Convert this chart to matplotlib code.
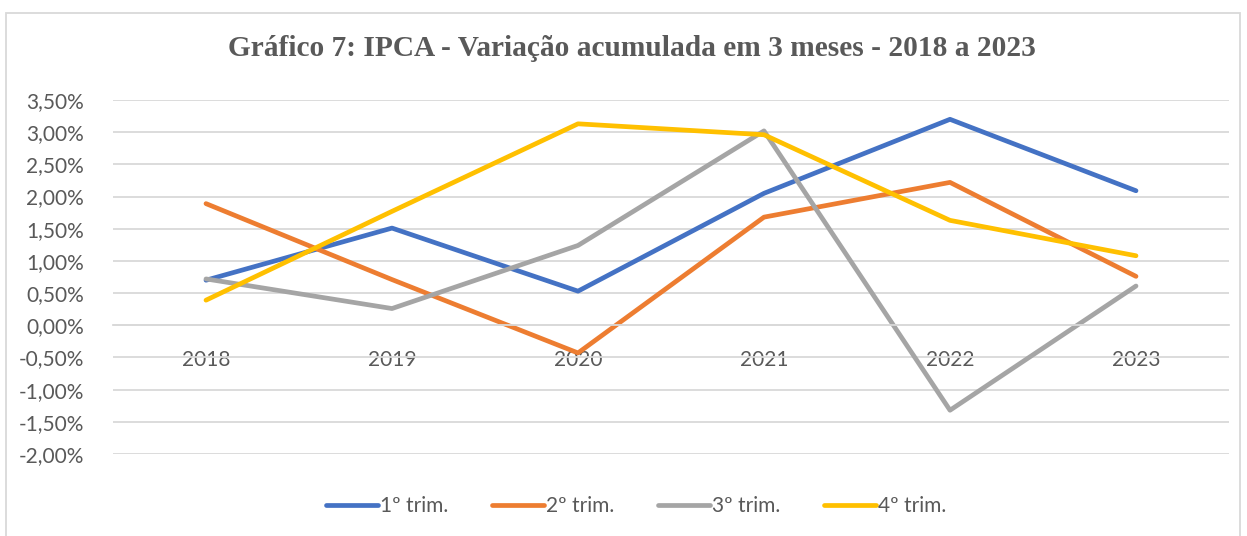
import matplotlib.pyplot as plt
from matplotlib.patches import Rectangle
from matplotlib.ticker import FuncFormatter

anos = ['2018', '2019', '2020', '2021', '2022', '2023']
trim1 = [0.70, 1.51, 0.53, 2.05, 3.20, 2.09]
trim2 = [1.89, 0.71, -0.43, 1.68, 2.22, 0.76]
trim3 = [0.72, 0.26, 1.24, 3.02, -1.32, 0.61]
trim4 = [0.39, 1.77, 3.13, 2.96, 1.63, 1.08]
series = ['1º trim.', '2º trim.', '3º trim.', '4º trim.']
cores = ['#4472C4', '#ED7D31', '#A5A5A5', '#FFC000']

plt.rcParams['font.family'] = ['Lato', 'DejaVu Sans']
W, H = 1247, 536
fig = plt.figure(figsize=(W / 100, H / 100), dpi=100)
ax = fig.add_axes([113 / W, 1 - 454 / H, (1229 - 113) / W, (454 - 100) / H])

x = list(range(len(anos)))
for vals, nome, cor in zip([trim1, trim2, trim3, trim4], series, cores):
    ax.plot(x, vals, color=cor, lw=3.4, label=nome, solid_capstyle='round',
            solid_joinstyle='round')

ax.set_xlim(-0.5, len(anos) - 0.5)
ax.set_ylim(-2.0, 3.5)
ax.set_yticks([i * 0.5 for i in range(-4, 8)])
ax.yaxis.set_major_formatter(FuncFormatter(lambda v, p: ('%.2f%%' % v).replace('.', ',')))
ax.grid(axis='y', color='#D9D9D9', lw=1.3)
ax.set_axisbelow(True)
for s in ['top', 'right', 'left']:
    ax.spines[s].set_visible(False)
ax.spines['bottom'].set_position(('data', 0))
ax.spines['bottom'].set_color('#D9D9D9')
ax.spines['bottom'].set_linewidth(1.3)
ax.set_xticks(x)
ax.set_xticklabels(anos)
ax.tick_params(axis='x', length=0, pad=18, labelsize=15, labelcolor='#595959')
ax.tick_params(axis='y', length=0, pad=21, labelsize=15, labelcolor='#595959')

fig.text(632 / W, 1 - 49 / H, 'Gráfico 7: IPCA - Variação acumulada em 3 meses - 2018 a 2023',
         ha='center', va='center', fontsize=21.2, fontweight='bold', color='#595959',
         family='Liberation Serif')

fig.legend(loc='center', bbox_to_anchor=(636 / W, 1 - 506 / H), ncol=4, frameon=False,
           fontsize=15, labelcolor='#595959', handlelength=2.5, handletextpad=0.1,
           columnspacing=2.1)

fig.patches.append(Rectangle((6 / W, -0.05), (1240 - 6) / W, 1.05 - 13 / H,
                             transform=fig.transFigure, fill=False, ec='#D9D9D9', lw=1.3))

fig.savefig('out.png', dpi=100)
